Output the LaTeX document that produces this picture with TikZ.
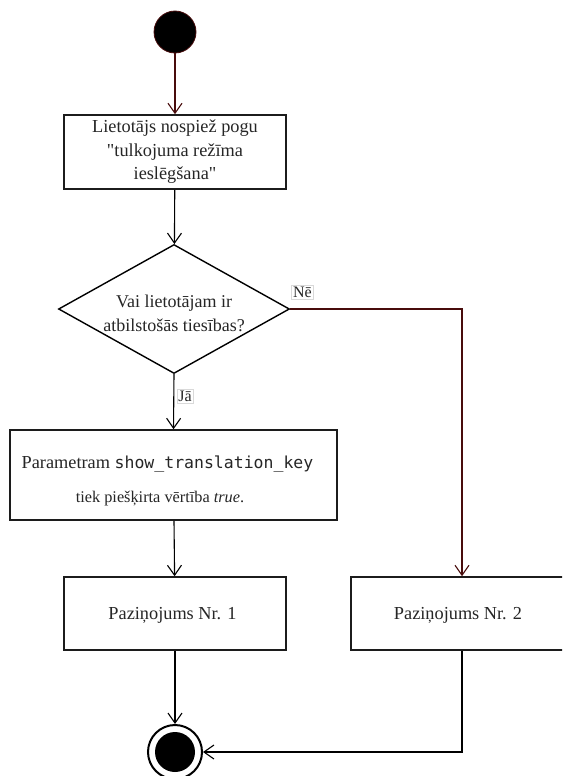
\documentclass[tikz,border=0pt]{standalone}
\usepackage{fontspec}
\setmainfont{Liberation Serif}
\setmonofont{DejaVu Sans Mono}
\usetikzlibrary{shapes.geometric,arrows.meta}
\definecolor{flowred}{RGB}{72,12,12}
\definecolor{boxline}{RGB}{28,28,28}
\begin{document}
\begin{tikzpicture}[x=1pt,y=-1pt,
  every node/.style={font=\fontsize{18.3}{23.5}\selectfont, text=black!85},
  actbox/.style={draw=boxline, line width=1.6pt, inner sep=0pt, align=center, fill=white},
  flow/.style={line width=1.1pt, -{Straight Barb[length=10pt,width=14pt,line width=1.1pt]}},
  guard/.style={draw=black!15, fill=white, inner sep=1.5pt, font=\fontsize{16}{18}\selectfont}
]
\useasboundingbox (0,0) rectangle (562,776);
\clip (0,0) rectangle (562,776);

% initial and final states
\node[circle, fill=black, draw=flowred, line width=0.8pt, minimum size=42pt, inner sep=0pt] (start) at (175,32) {};
\node[circle, draw=black, line width=2pt, fill=white, minimum size=54pt, inner sep=0pt] (end) at (175,752) {};
\fill[black] (end.center) circle (20);

% actions
\node[actbox, minimum width=222pt, minimum height=74pt] (press) at (175,152)
  {Lietotājs nospiež pogu\\\textquotedbl tulkojuma režīma\\ieslēgšana\textquotedbl};
\node[diamond, draw=black, line width=1.4pt, fill=white, inner sep=0pt,
      minimum width=231pt, minimum height=129pt] (check) at (174,309) {};
\node[align=center, font=\fontsize{18}{24}\selectfont] (checktxt) at (174,313)
  {Vai lietotājam ir\\atbilstošās tiesības?};
\node[actbox, minimum width=327pt, minimum height=90pt] (assign) at (173.5,475) {};
\node[align=center] (assigntxt) at (167.5,481)
  {Parametram {\ttfamily\fontsize{16.5}{23}\selectfont show\_translation\_key}\\[10pt]
   \hspace*{-15pt}{\fontsize{16.3}{20}\selectfont tiek piešķirta vērtība \textit{true}.}};
\node[actbox, minimum width=222pt, minimum height=73pt] (note1) at (175,613.5) {};
\node (note1txt) at (172.5,615) {Paziņojums Nr. 1};
\node[actbox, minimum width=222pt, minimum height=73pt] (note2) at (462,613.5) {};
\node (note2txt) at (458,615) {Paziņojums Nr. 2};

% transitions
\draw[flow, draw=flowred] (start) -- (press);
\draw[flow] (press) -- (check);
\draw[flow, draw=flowred] (check.east) -| (note2.north);
\draw[flow] (check.south) -- (assign.north);
\draw[flow] (assign) -- (note1);
\draw[flow] (note1) -- (end);
\draw[flow] (note2.south) |- (end.east);

% guards
\node[guard] (no) at (302.5,292.5) {Nē};
\node[guard] (yes) at (185,396) {Jā};
\end{tikzpicture}
\end{document}
